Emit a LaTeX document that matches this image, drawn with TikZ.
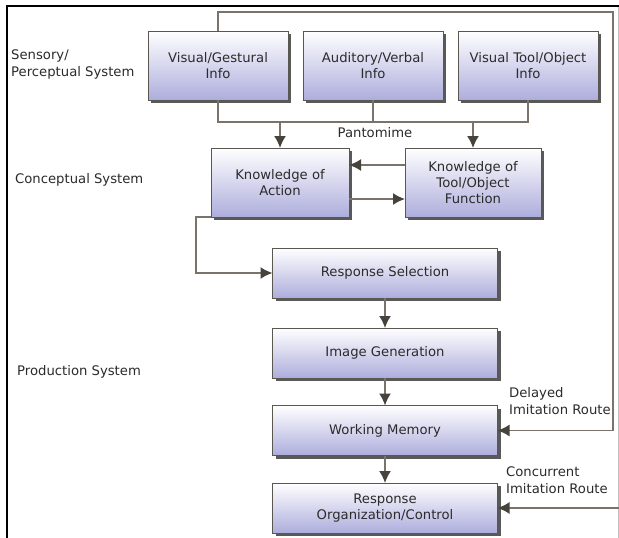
\documentclass[tikz,border=0pt]{standalone}
\usepackage{fontspec}
\setmainfont{DejaVu Sans}
\usetikzlibrary{arrows.meta,shadows}
\definecolor{txt}{HTML}{2B2B2B}
\definecolor{lin}{HTML}{7A736B}
\definecolor{tip}{HTML}{45433B}
\definecolor{bord}{HTML}{5A5650}
\definecolor{lav}{HTML}{ADADDD}
\tikzset{
  box/.style={draw=bord, line width=0.8pt, top color=white, bottom color=lav,
    minimum width=#1, minimum height=69pt, inner sep=2pt, outer sep=0pt,
    align=center, text=txt, font=\fontsize{13.2}{16}\selectfont,
    drop shadow={shadow xshift=3pt, shadow yshift=-3pt, fill=black, opacity=0.65}},
  wbox/.style={box=225pt, minimum height=50pt},
  conn/.style={draw=lin, line width=1.6pt},
  arr/.style={conn, -{Latex[length=12pt,width=12pt,fill=tip,color=tip]}},
  lbl/.style={text=txt, font=\fontsize{13.2}{17}\selectfont, align=left, inner sep=0pt}
}
\begin{document}
\begin{tikzpicture}[x=1pt,y=-1pt]
\useasboundingbox (0,0) rectangle (619,538);
\fill[white] (0,0) rectangle (619,538);
% frame
\draw[black!25, line width=0.8pt] (618,6) -- (618,538);
\draw[black, line width=1.2pt] (7,538) -- (7,6) -- (619,6);

% side labels
\node[lbl, anchor=west] (s1) at (11,64) {Sensory/\\Perceptual System};
\node[lbl, anchor=west] (s2) at (15,180) {Conceptual System};
\node[lbl, anchor=west] (s3) at (17,372) {Production System};

% boxes
\node[box=140pt] (VG) at (218,65.5) {Visual/Gestural\\Info};
\node[box=140pt] (AV) at (373,65.5) {Auditory/Verbal\\Info};
\node[box=140pt] (VT) at (528,65.5) {Visual Tool/Object\\Info};
\node[box=138pt] (KA) at (280,182.5) {Knowledge of\\Action};
\node[box=136pt] (KT) at (473,182.5) {Knowledge of\\Tool/Object\\Function};
\node[wbox] (RS) at (385,273) {Response Selection};
\node[wbox] (IG) at (385,353) {Image Generation};
\node[wbox] (WM) at (385,430.5) {Working Memory};
\node[wbox] (ROC) at (385,508) {Response\\Organization/Control};

% coordinates
\coordinate (pL) at (218,122);
\coordinate (pR) at (528,122);
\coordinate (tr) at (613,12);
\coordinate (cr) at (619,508);

% top connectors
\draw[conn] (VG.south) -- (pL) -- (pR) -- (VT.south);
\draw[conn] (AV.south) -- (AV.south |- pL);
\draw[arr] (KA.north |- pL) -- (KA.north);
\draw[arr] (KT.north |- pL) -- (KT.north);
\node[lbl] (pant) at (375,132.5) {Pantomime};

% between knowledge boxes
\draw[arr] (KT.west |- 0,165) -- (KA.east |- 0,165);
\draw[arr] (KA.east |- 0,199) -- (KT.west |- 0,199);

% to response selection
\draw[arr] (KA.south west) -- ++(-15,0) |- (RS.west);

% production chain
\draw[arr] (RS.south) -- (IG.north);
\draw[arr] (IG.south) -- (WM.north);
\draw[arr] (WM.south) -- (ROC.north);

% delayed imitation route
\draw[arr] (VG.north) |- (tr) |- (WM.east);
\node[lbl, anchor=west] (dl) at (509,401) {Delayed\\Imitation Route};

% concurrent imitation route
\draw[arr] (cr) -- (ROC.east);
\node[lbl, anchor=west] (cc) at (506,480.5) {Concurrent\\Imitation Route};
\end{tikzpicture}
\end{document}
